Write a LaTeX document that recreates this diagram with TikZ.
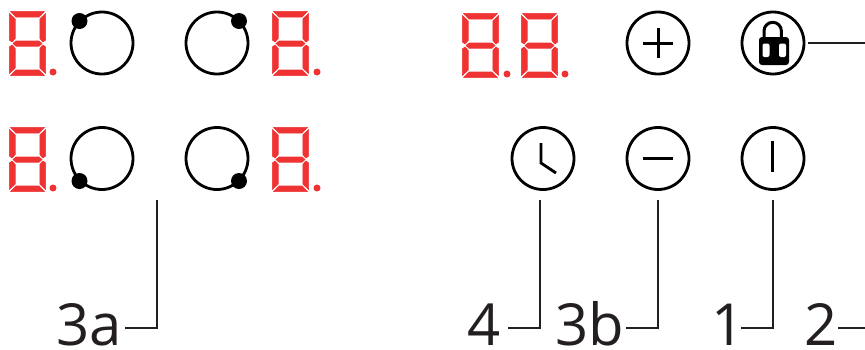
\documentclass[tikz,border=0pt]{standalone}
\usepackage{fontspec}
\setmainfont{Open Sans}
\definecolor{seg}{HTML}{EF3232}
\definecolor{ink}{HTML}{231F20}
\tikzset{
  btn/.style={circle,draw=black,line width=2.8pt,minimum size=62pt,inner sep=0pt},
  glyph/.style={draw=black,line width=2.8pt},
  lead/.style={draw=ink,line width=1.9pt},
  lab/.style={anchor=base west,inner sep=0pt,text=ink,font=\fontsize{58}{58}\selectfont},
  knob/.style={fill=black,circle,minimum size=16pt,inner sep=0pt}
}
% seven-segment digit: #1 left, #2 top, width 37, height 65
\newcommand{\segdigit}[2]{%
  \begin{scope}[shift={(#1,#2)},seg,line width=0.6pt,line join=round]
    \filldraw (1.5,0.4)--(35.5,0.4)--(30,6)--(7,6)--cycle;
    \filldraw (0.4,2.5)--(6.2,8)--(6.2,27.5)--(3,31)--(0.4,29)--cycle;
    \filldraw (36.6,2.5)--(30.8,8)--(30.8,27.5)--(34,31)--(36.6,29)--cycle;
    \filldraw (4,32.5)--(7,30)--(30,30)--(33,32.5)--(30,35.2)--(7,35.2)--cycle;
    \filldraw (0.4,36)--(3,34)--(6.2,37.5)--(6.2,57)--(0.4,62.5)--cycle;
    \filldraw (36.6,36)--(34,34)--(30.8,37.5)--(30.8,57)--(36.6,62.5)--cycle;
    \filldraw (1.5,64.6)--(7,59)--(30,59)--(35.5,64.6)--cycle;
  \end{scope}}
\begin{document}
\begin{tikzpicture}[x=1pt,y=-1pt]
\useasboundingbox (0,0) rectangle (865,349);
% displays
\segdigit{9}{11}\fill[seg] (53,72) circle (3.5);
\segdigit{272}{11}\fill[seg] (317,72) circle (3.5);
\segdigit{9}{127}\fill[seg] (53,188) circle (3.5);
\segdigit{272}{127}\fill[seg] (317,188) circle (3.5);
\segdigit{462}{13}\fill[seg] (507,74) circle (3.5);
\segdigit{521}{13}\fill[seg] (565,74) circle (3.5);
% burners
\node[btn] (b1) at (102,43) {};
\node[btn] (b2) at (217,43) {};
\node[btn] (b3) at (102,158.5) {};
\node[btn] (b4) at (217,158.5) {};
\node[knob] (k1) at (79.5,21) {};
\node[knob] (k2) at (239,21) {};
\node[knob] (k3) at (79.5,181) {};
\node[knob] (k4) at (239,181) {};
% buttons
\node[btn] (plus) at (658,43) {};
\node[btn] (lock) at (773,43) {};
\node[btn] (clock) at (543,158.5) {};
\node[btn] (minus) at (658,158.5) {};
\node[btn] (power) at (773,158.5) {};
% glyphs
\draw[glyph] (643,43.5)--(673,43.5) (658.5,28)--(658.5,58);
\draw[glyph] (643,158.5)--(673,158.5);
\draw[glyph] (772.7,141)--(772.7,172);
\draw[glyph,line join=miter] (541,143)--(541,163)--(556,173);
\draw[black,line width=3pt] (764,38)--(764,31) arc[start angle=180,end angle=360,radius=8.7] -- (781.4,38);
\fill[black,rounded corners=3pt] (759,37) rectangle (789,65);
\fill[white,rounded corners=2pt] (762.5,43.5) rectangle (769.5,57);
\fill[white,rounded corners=2pt] (779,43.5) rectangle (786,57);
% labels
\node[lab] (l3a) at (56,345) {3a};
\node[lab] (l4) at (467,345) {4};
\node[lab] (l3b) at (555,345) {3b};
\node[lab] (l1) at (711,345) {1};
\node[lab] (l2) at (804,345) {2};
% connector ends
\coordinate (t3a) at (157,200);
\coordinate (e3a) at (125,328);
\coordinate (t4) at (540,200);
\coordinate (e4) at (508,328);
\coordinate (t3b) at (658,200);
\coordinate (e3b) at (626,328);
\coordinate (t1) at (773,200);
\coordinate (e1) at (741,328);
\coordinate (e2) at (838,328);
\coordinate (r2) at (865,328);
\coordinate (lockL) at (808,43);
\coordinate (lockR) at (865,43);
\draw[lead] (t3a) |- (e3a);
\draw[lead] (t4) |- (e4);
\draw[lead] (t3b) |- (e3b);
\draw[lead] (t1) |- (e1);
\draw[lead] (e2) -- (r2);
\draw[lead] (lockL) -- (lockR);
\end{tikzpicture}
\end{document}
